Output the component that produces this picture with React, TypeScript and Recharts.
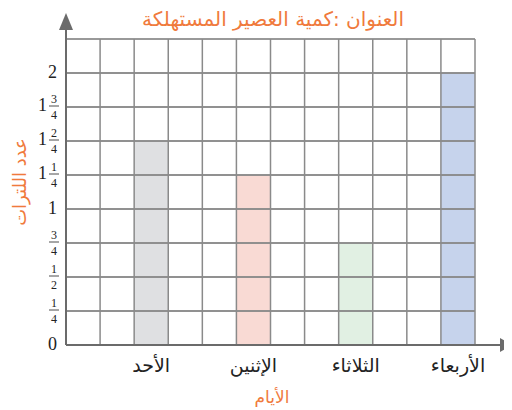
import React from "react"
import { BarChart, Bar, XAxis, YAxis, CartesianGrid, Cell, ReferenceLine } from "recharts"

const days = ["الأحد", "الإثنين", "الثلاثاء", "الأربعاء"]
const liters = [1.5, 1.25, 0.75, 2]
const barColors = ["#dfe0e2", "#f9dad4", "#e1f0e3", "#c6d3ec"]
const yTicks = [0, 0.25, 0.5, 0.75, 1, 1.25, 1.5, 1.75, 2]
const yTickLabels = ["0", "1/4", "1/2", "3/4", "1", "1 1/4", "1 2/4", "1 3/4", "2"]
const yMax = 2.25
const slotsPerDay = 3

const title = "العنوان :كمية العصير المستهلكة"
const yTitle = "عدد اللترات"
const xTitle = "الأيام"

const W = 504
const H = 402
const margin = { top: 31, right: 37, bottom: 35, left: 0 }
const yAxisWidth = 58
const xAxisHeight = 30
const plotLeft = margin.left + yAxisWidth
const plotRight = W - margin.right
const plotBottom = H - margin.bottom - xAxisHeight
const slots = days.length * slotsPerDay
const slotWidth = (plotRight - plotLeft) / slots

const gridTicks = Array.from({ length: slots + 1 }, (_, i) => i)
const data = days.map((day, i) => ({ day, pos: i * slotsPerDay + slotsPerDay - 0.5, liters: liters[i] }))

const orange = "#f07a3c"
const axisColor = "#6b6b6b"
const gridColor = "#8a8a8a"
const arabicFont = "DejaVu Sans, sans-serif"
const numFont = "'Liberation Serif', 'DejaVu Serif', serif"

const YTick = ({ x, y, payload }: any) => {
  const label = yTickLabels[yTicks.indexOf(payload.value)]
  if (label === undefined) return null
  const parts = label.split(" ")
  const frac = parts.find((p) => p.includes("/"))
  const whole = parts.find((p) => !p.includes("/"))
  const st = { fontFamily: numFont }
  if (!frac) {
    return (
      <text x={x - 9} y={y + 5} textAnchor="end" style={st} fontSize={18} fill="#222">
        {whole}
      </text>
    )
  }
  const [num, den] = frac.split("/")
  const cx = x - 12
  return (
    <g>
      {whole && (
        <text x={x - 19} y={y + 4} textAnchor="end" style={st} fontSize={18} fill="#222">
          {whole}
        </text>
      )}
      <text x={cx} y={y - 4} textAnchor="middle" style={st} fontSize={12} fill="#222">
        {num}
      </text>
      <line x1={cx - 5} x2={cx + 5} y1={y - 1} y2={y - 1} stroke="#222" strokeWidth={0.8} />
      <text x={cx} y={y + 12} textAnchor="middle" style={st} fontSize={12} fill="#222">
        {den}
      </text>
    </g>
  )
}

const XTick = ({ x, y, payload }: any) => {
  const d = data.find((r) => r.pos === payload.value)
  return (
    <text x={x} y={y + 27} textAnchor="middle" style={{ fontFamily: arabicFont }} fontSize={19} fill="#222">
      {d ? d.day : ""}
    </text>
  )
}

export default function App() {
  return (
    <div style={{ position: "relative", width: W, height: H }}>
      <BarChart width={W} height={H} data={data} margin={margin}>
        <XAxis xAxisId="grid" type="number" dataKey="pos" domain={[0, slots]} ticks={gridTicks} hide />
        <XAxis
          xAxisId="days"
          type="number"
          dataKey="pos"
          domain={[0, slots]}
          ticks={data.map((d) => d.pos)}
          height={xAxisHeight}
          axisLine={false}
          tickLine={false}
          tickSize={0}
          tickMargin={0}
          tick={<XTick />}
          interval={0}
        />
        <YAxis
          type="number"
          domain={[0, yMax]}
          ticks={yTicks}
          width={yAxisWidth}
          axisLine={false}
          tickLine={false}
          tickSize={0}
          tickMargin={0}
          tick={<YTick />}
          interval={0}
        />
        <Bar xAxisId="days" dataKey="liters" barSize={slotWidth} isAnimationActive={false}>
          {data.map((d, i) => (
            <Cell key={d.day} fill={barColors[i]} />
          ))}
        </Bar>
        <CartesianGrid xAxisId="grid" stroke={gridColor} strokeWidth={1.5} {...({ zIndex: 1000 } as any)} />
        {yTicks.map((t) => (
          <ReferenceLine
            key={t}
            xAxisId="grid"
            y={t}
            stroke={gridColor}
            strokeWidth={1.5}
            {...({ zIndex: 1000 } as any)}
          />
        ))}
        <ReferenceLine xAxisId="grid" y={yMax} stroke="#b4b4b4" strokeWidth={1.5} />
      </BarChart>
      <svg width={W} height={H} style={{ position: "absolute", left: 0, top: 0, pointerEvents: "none" }}>
        <text x={265} y={18} textAnchor="middle" style={{ fontFamily: arabicFont }} fontSize={20} fill={orange}>
          {title}
        </text>
        <text
          x={18}
          y={174}
          textAnchor="middle"
          style={{ fontFamily: arabicFont }}
          fontSize={18}
          fill={orange}
          transform="rotate(-90, 18, 174)"
        >
          {yTitle}
        </text>
        <text x={264} y={395} textAnchor="middle" style={{ fontFamily: arabicFont }} fontSize={17} fill={orange}>
          {xTitle}
        </text>
        <line x1={plotLeft} y1={plotBottom} x2={plotLeft} y2={22} stroke={axisColor} strokeWidth={2} />
        <polygon points={`${plotLeft - 7},22 ${plotLeft},5 ${plotLeft + 7},22`} fill={axisColor} />
        <line x1={plotLeft} y1={plotBottom} x2={W - 12} y2={plotBottom} stroke={axisColor} strokeWidth={2} />
        <polygon
          points={`${W - 12},${plotBottom - 7} ${W},${plotBottom} ${W - 12},${plotBottom + 7}`}
          fill={axisColor}
        />
      </svg>
    </div>
  )
}
